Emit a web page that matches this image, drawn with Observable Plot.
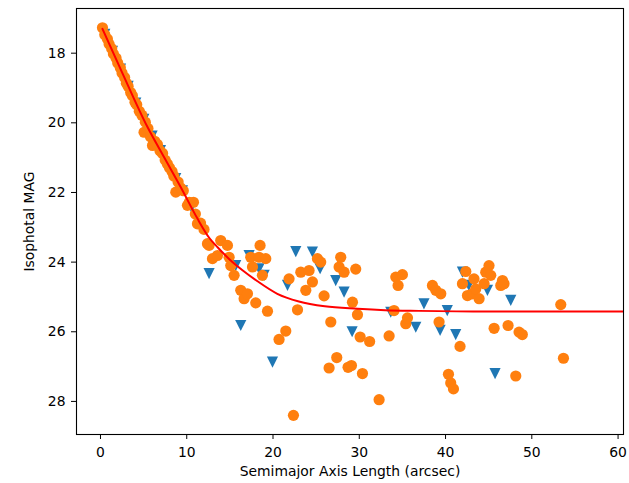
<!DOCTYPE html>
<html>
<head>
<meta charset="utf-8">
<script src="https://cdn.jsdelivr.net/npm/d3@7"></script>
<script src="https://cdn.jsdelivr.net/npm/@observablehq/plot@0.6"></script>
<style>
  html, body { margin: 0; padding: 0; background: #ffffff; }
  #chart svg { display: block; }
</style>
</head>
<body>
<div id="chart"></div>
<script>
// ---- Data ----
const xLabel = "Semimajor Axis Length (arcsec)";
const yLabel = "Isophotal MAG";
const xTicks = [0, 10, 20, 30, 40, 50, 60];
const yTicks = [18, 20, 22, 24, 26, 28];

// Orange circles (semimajor axis, magnitude)
const circleX = [
  0.23, 0.5, 0.8, 1.0, 1.3, 1.5, 1.8, 2.0, 2.3, 2.5, 2.8, 3.0, 3.2, 3.5, 3.7, 4.0, 4.2, 4.5, 4.8,
  5.05, 5.2, 5.5, 5.8, 6.03, 6.3, 6.6, 6.9, 7.2, 7.5, 7.76, 8.0, 8.3, 8.5, 8.73, 9.0, 9.3, 9.6,
  10.08, 10.3, 10.78, 11.0, 11.24, 11.6, 12.0, 12.4,
  12.98, 13.56, 12.59, 13.94, 14.72, 14.91, 15.1, 15.49, 16.26, 16.65, 17.04, 17.42, 17.62, 18.0,
  18.38, 18.5, 18.77, 19.16, 19.36, 20.7, 21.48, 21.86, 22.37, 22.84, 23.22, 23.8, 24.18, 24.57,
  25.15, 25.53, 25.92, 26.5, 26.7, 27.39, 27.66, 27.85, 28.24, 28.7, 29.09, 29.21, 29.59, 29.79,
  30.1, 30.37, 31.2, 32.3, 33.46, 34.03, 34.23, 34.5, 35.0, 35.39, 35.59, 38.48, 38.87, 39.25,
  39.45, 40.34, 40.6, 40.92, 41.68, 41.96, 42.35, 42.54, 43.1, 43.3, 43.5, 43.89, 44.47, 44.66,
  45.04, 45.24, 45.63, 46.4, 46.6, 46.78, 47.25, 48.14, 48.52, 48.9, 53.36, 53.67
];
const circleY = [
  17.27, 17.47, 17.59, 17.74, 17.87, 18.02, 18.14, 18.28, 18.42, 18.57, 18.70, 18.86, 18.95, 19.13, 19.22, 19.41, 19.48, 19.67, 19.78,
  20.27, 19.98, 20.16, 20.40, 20.65, 20.53, 20.62, 20.80, 20.88, 21.07, 21.18, 21.29, 21.40, 21.53, 21.99, 21.70, 21.87, 21.95,
  22.37, 22.28, 22.28, 22.62, 22.90, 22.88, 23.06, 23.47,
  23.90, 23.81, 23.52, 23.38, 23.52, 23.86, 24.10, 24.38, 24.81, 25.05, 24.91, 23.86, 24.14, 25.17,
  23.86, 23.52, 24.38, 23.90, 25.41, 26.22, 25.98, 24.48, 28.40, 25.37, 24.29, 24.81, 24.24, 24.57,
  23.90, 24.00, 24.97, 27.04, 25.72, 26.74, 24.14, 23.86, 24.29, 27.02, 26.97, 25.15, 24.20, 25.51,
  26.15, 27.20, 26.28, 27.95, 26.12, 25.39, 24.43, 24.67, 24.36, 25.77, 25.60, 24.67, 24.81, 25.72,
  24.91, 27.22, 27.47, 27.64, 26.42, 24.62, 24.27, 24.96, 24.91, 24.48, 24.77, 25.05, 24.62, 24.29,
  24.10, 24.38, 25.90, 24.67, 24.53, 24.62, 25.82, 27.27, 26.01, 26.08, 25.22, 26.76
];

// Blue downward triangles
const triX = [
  0.5, 1.39, 2.32, 3.2, 4.09, 5.02, 5.98, 6.95, 8.72, 9.5, 10.55,
  12.59, 15.68, 16.26, 17.23, 18.38, 18.97, 19.94, 21.68, 22.64, 24.57, 25.46, 27.27, 28.24,
  29.17, 33.65, 36.55, 37.5, 39.37, 40.2, 41.18, 41.96, 42.7, 44.86, 45.74, 47.56
];
const triY = [
  17.46, 17.95, 18.46, 18.95, 19.43, 19.90, 20.38, 20.80, 21.60, 21.95, 22.43,
  24.33, 24.10, 25.82, 23.81, 24.19, 24.38, 26.87, 24.67, 23.70, 23.71, 24.19, 24.53, 24.86,
  26.00, 25.44, 25.87, 25.20, 25.96, 25.39, 26.08, 24.29, 24.67, 24.81, 27.20, 25.10
];

// Red fitted curve, read at points along the line
const fitX = [0.23, 2.5, 5.45, 7.38, 9.31, 11.24, 12.6, 13.6, 15.0, 16.5, 18.2, 20.5, 23.0, 26.0, 29.8, 33.0, 36.9, 45.0, 60.7];
const fitY = [17.30, 18.55, 20.12, 20.99, 21.85, 22.75, 23.30, 23.58, 23.93, 24.24, 24.55, 24.91, 25.13, 25.27, 25.34, 25.38, 25.40, 25.42, 25.42];

// ---- Build tables ----
const circles = circleX.map((x, i) => ({x, y: circleY[i]}));
const tris = triX.map((x, i) => ({x, y: triY[i]}));
const fit = fitX.map((x, i) => ({x, y: fitY[i]}));

// Downward triangle symbol (matplotlib "v")
const triangleDown = {
  draw(context, size) {
    const s = Math.sqrt(size / Math.PI);
    context.moveTo(-s, -s);
    context.lineTo(s, -s);
    context.lineTo(0, s);
    context.closePath();
  }
};

const fontSize = 13.9;

const chart = Plot.plot({
  width: 629,
  height: 483,
  marginLeft: 76,
  marginRight: 6,
  marginTop: 8,
  marginBottom: 49,
  style: {fontFamily: "'DejaVu Sans', sans-serif", fontSize: fontSize + "px", color: "#000", background: "#fff"},
  x: {domain: [-2.78, 60.63]},
  y: {domain: [16.717, 28.95], reverse: true},
  marks: [
    Plot.dot(tris, {x: "x", y: "y", symbol: triangleDown, r: 5.6, fill: "#1f77b4", stroke: "none", clip: true}),
    Plot.dot(circles, {x: "x", y: "y", symbol: "circle", r: 5.6, fill: "#ff7f0e", stroke: "none", clip: true}),
    Plot.line(fit, {x: "x", y: "y", stroke: "#ff0000", strokeWidth: 2, curve: "monotone-x", clip: true}),
    Plot.frame({stroke: "#000", strokeWidth: 1.1}),
    Plot.axisX({ticks: xTicks, tickFormat: d => String(d), tickSize: 5, tickPadding: 8, label: null, fontSize: fontSize}),
    Plot.axisY({ticks: yTicks, tickFormat: d => String(d), tickSize: 5, tickPadding: 6, label: null, fontSize: fontSize}),
    Plot.text([xLabel], {text: d => d, frameAnchor: "bottom", dy: 37.5, fontSize: fontSize, lineAnchor: "middle", textAnchor: "middle"}),
    Plot.text([yLabel], {text: d => d, frameAnchor: "left", dx: -46.5, rotate: -90, fontSize: fontSize, lineAnchor: "middle", textAnchor: "middle"})
  ]
});

document.getElementById("chart").appendChild(chart);
</script>
</body>
</html>
